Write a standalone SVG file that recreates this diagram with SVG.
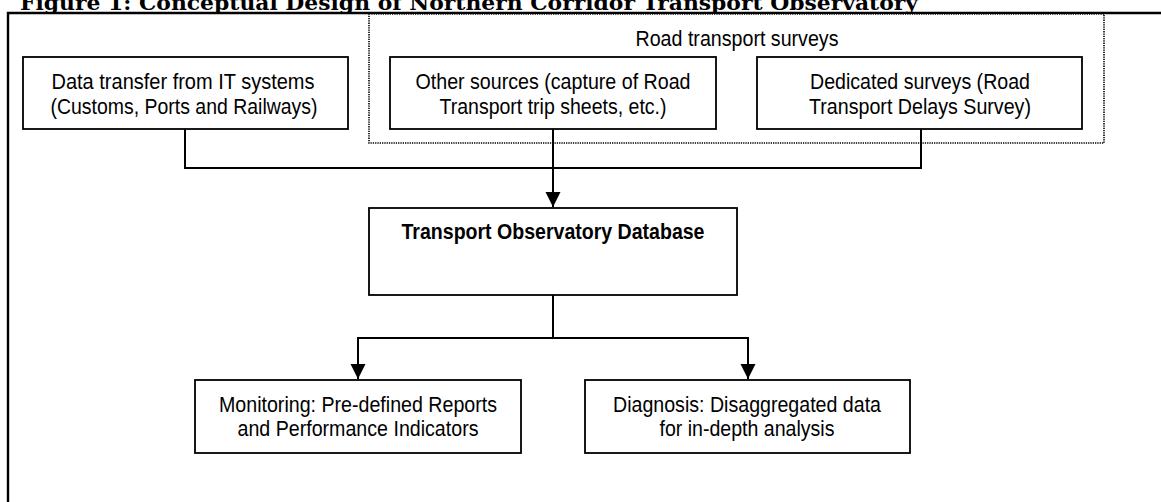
<svg xmlns="http://www.w3.org/2000/svg" width="1161" height="502" viewBox="0 0 1161 502">
<defs>
<style>
.box{fill:#fff;stroke:#000;stroke-width:1.8}
.t{font-family:"Liberation Sans","Arial",sans-serif;font-size:22px;fill:#000;text-anchor:middle}
.b{font-weight:bold}
.con{fill:none;stroke:#000;stroke-width:2}
.title{font-family:"DejaVu Serif","Liberation Serif",serif;font-weight:bold;font-size:20px;fill:#000}
</style>
<marker id="arr" markerUnits="userSpaceOnUse" markerWidth="16" markerHeight="16" viewBox="0 0 16 16" refX="15" refY="8" orient="auto">
<path d="M0,0.5 L15,8 L0,15.5 Z" fill="#000"/>
</marker>
</defs>
<rect width="1161" height="502" fill="#fff"/>
<text class="title" x="20" y="9.5" textLength="898" lengthAdjust="spacingAndGlyphs">Figure 1: Conceptual Design of Northern Corridor Transport Observatory</text>
<path d="M8,502 V13 H1161" fill="none" stroke="#000" stroke-width="2.4"/>
<g id="road-surveys">
<rect x="369" y="14" width="735" height="129" fill="#fff" stroke="#000" stroke-width="1.6" stroke-dasharray="1.3,1"/>
<text class="t" x="737" y="46" textLength="203" lengthAdjust="spacingAndGlyphs">Road transport surveys</text>
</g>
<g id="it-systems">
<rect class="box" x="23" y="57" width="325" height="72"/>
<text class="t" x="183" y="89" textLength="263" lengthAdjust="spacingAndGlyphs">Data transfer from IT systems</text>
<text class="t" x="184" y="114" textLength="267" lengthAdjust="spacingAndGlyphs">(Customs, Ports and Railways)</text>
</g>
<g id="other-sources">
<rect class="box" x="390" y="57" width="326" height="72"/>
<text class="t" x="553" y="89" textLength="275" lengthAdjust="spacingAndGlyphs">Other sources (capture of Road</text>
<text class="t" x="553" y="114" textLength="227" lengthAdjust="spacingAndGlyphs">Transport trip sheets, etc.)</text>
</g>
<g id="dedicated-surveys">
<rect class="box" x="757" y="57" width="325" height="72"/>
<text class="t" x="920" y="89" textLength="220" lengthAdjust="spacingAndGlyphs">Dedicated surveys (Road</text>
<text class="t" x="920" y="114" textLength="222" lengthAdjust="spacingAndGlyphs">Transport Delays Survey)</text>
</g>
<g id="database">
<rect class="box" x="369" y="208" width="368" height="87"/>
<text class="t b" x="553" y="239" textLength="303" lengthAdjust="spacingAndGlyphs">Transport Observatory Database</text>
</g>
<g id="monitoring">
<rect class="box" x="195" y="380" width="326" height="73"/>
<text class="t" x="358" y="412" textLength="278" lengthAdjust="spacingAndGlyphs">Monitoring: Pre-defined Reports</text>
<text class="t" x="358" y="436" textLength="241" lengthAdjust="spacingAndGlyphs">and Performance Indicators</text>
</g>
<g id="diagnosis">
<rect class="box" x="585" y="380" width="325" height="73"/>
<text class="t" x="747" y="412" textLength="268" lengthAdjust="spacingAndGlyphs">Diagnosis: Disaggregated data</text>
<text class="t" x="747" y="436" textLength="175" lengthAdjust="spacingAndGlyphs">for in-depth analysis</text>
</g>
<g id="connectors">
<path class="con" d="M185,129 V168 H921 V129"/>
<path class="con" d="M553,129 V207" marker-end="url(#arr)"/>
<path class="con" d="M553,295 V338 H358 V379" marker-end="url(#arr)"/>
<path class="con" d="M553,338 H748 V379" marker-end="url(#arr)"/>
</g>
</svg>
